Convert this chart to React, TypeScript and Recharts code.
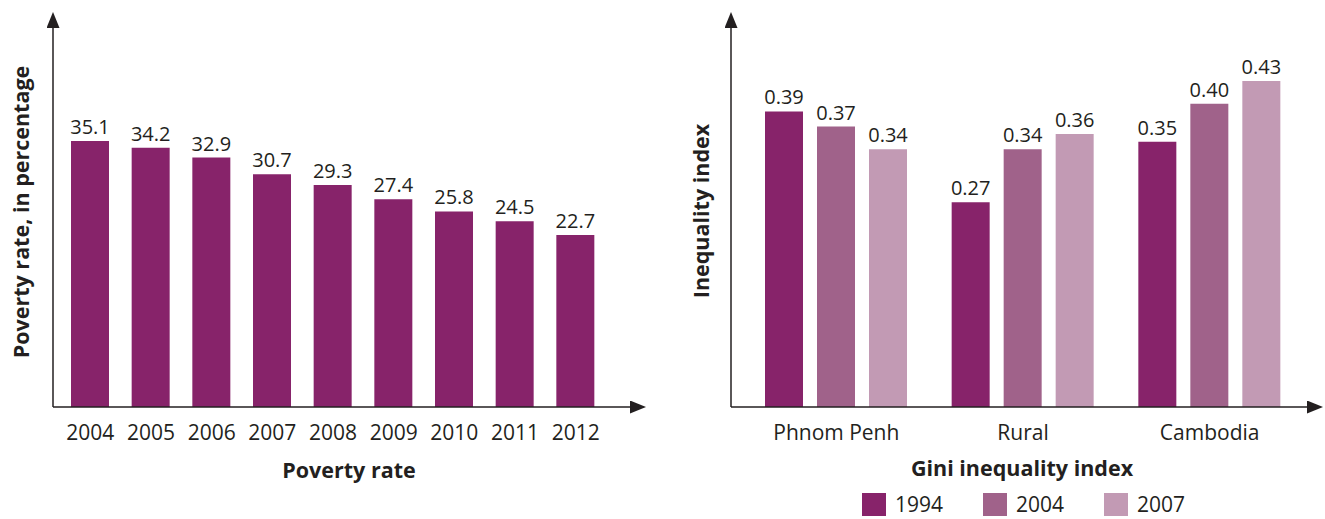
import React from 'react';
import { BarChart, Bar, XAxis, YAxis, LabelList } from 'recharts';

// Poverty rate by year (%)
const years = ['2004', '2005', '2006', '2007', '2008', '2009', '2010', '2011', '2012'];
const povertyRate = [35.1, 34.2, 32.9, 30.7, 29.3, 27.4, 25.8, 24.5, 22.7];

// Gini index by area and survey year
const regions = ['Phnom Penh', 'Rural', 'Cambodia'];
const giniYears = ['1994', '2004', '2007'];
const gini1994 = [0.39, 0.27, 0.35];
const gini2004 = [0.37, 0.34, 0.4];
const gini2007 = [0.34, 0.36, 0.43];
const giniColors = ['#87236a', '#a0628a', '#c29ab4'];

const povertyData = years.map((year, i) => ({ year, rate: povertyRate[i] }));
const giniSeries = [gini1994, gini2004, gini2007];
const giniData = regions.map((region, i) => {
  const row: Record<string, string | number> = { region };
  giniYears.forEach((y, k) => {
    row['g' + y] = giniSeries[k][i];
  });
  return row;
});

const INK = '#231f20';
const FONT = '"Open Sans", "Noto Sans", sans-serif';

const axisLineX = { stroke: INK, strokeWidth: 1.5, markerEnd: 'url(#axisArrow)' };
const axisLineY = { stroke: INK, strokeWidth: 1.5, markerStart: 'url(#axisArrow)' };

const CategoryTick = (props: any) => {
  const { x, y, payload } = props;
  return (
    <text x={x} y={y + 31} textAnchor="middle" fill={INK} fontSize={21} fontFamily={FONT}>
      {payload.value}
    </text>
  );
};

const valueLabelStyle = { fill: INK, fontSize: 20, fontFamily: FONT };

const titleStyle: React.CSSProperties = {
  position: 'absolute',
  fontFamily: FONT,
  fontWeight: 700,
  fontSize: 21.5,
  color: INK,
  whiteSpace: 'nowrap',
};

const PovertyChart = () => (
  <BarChart
    width={680}
    height={519}
    data={povertyData}
    margin={{ top: 28, right: 50, bottom: 42, left: 52 }}
  >
    <XAxis
      dataKey="year"
      height={70}
      tickLine={false}
      tickSize={0}
      axisLine={axisLineX}
      tick={<CategoryTick />}
      padding={{ left: 7, right: 24 }}
      interval={0}
    />
    <YAxis width={1} domain={[0, 50]} tick={false} tickLine={false} axisLine={axisLineY} />
    <Bar dataKey="rate" fill="#87236a" barSize={38} isAnimationActive={false}>
      <LabelList dataKey="rate" position="top" offset={7} style={valueLabelStyle} />
    </Bar>
  </BarChart>
);

const GiniChart = () => (
  <BarChart
    width={645}
    height={519}
    data={giniData}
    margin={{ top: 28, right: 18, bottom: 42, left: 50 }}
    barGap={14}
  >
    <XAxis
      dataKey="region"
      height={70}
      tickLine={false}
      tickSize={0}
      axisLine={axisLineX}
      tick={<CategoryTick />}
      padding={{ left: 12, right: 4 }}
      interval={0}
    />
    <YAxis width={1} domain={[0, 0.5]} tick={false} tickLine={false} axisLine={axisLineY} />
    {giniYears.map((y, k) => (
      <Bar
        key={y}
        dataKey={'g' + y}
        name={y}
        fill={giniColors[k]}
        barSize={38}
        isAnimationActive={false}
      >
        <LabelList
          dataKey={'g' + y}
          position="top"
          offset={7}
          style={valueLabelStyle}
          formatter={(v: any) => Number(v).toFixed(2)}
        />
      </Bar>
    ))}
  </BarChart>
);

export default function App() {
  return (
    <div
      style={{
        position: 'absolute',
        left: 0,
        top: 0,
        width: 1325,
        height: 519,
        background: '#fff',
        overflow: 'hidden',
      }}
    >
      <svg width={0} height={0} style={{ position: 'absolute' }}>
        <defs>
          <marker
            id="axisArrow"
            viewBox="0 0 16 13"
            refX={0}
            refY={6.5}
            markerWidth={16}
            markerHeight={13}
            markerUnits="userSpaceOnUse"
            orient="auto-start-reverse"
          >
            <path d="M0,0 L16,6.5 L0,13 Z" fill={INK} />
          </marker>
        </defs>
      </svg>

      <div style={{ position: 'absolute', left: 0, top: 0 }}>
        <PovertyChart />
      </div>
      <div style={{ position: 'absolute', left: 680, top: 0 }}>
        <GiniChart />
      </div>

      {/* axis titles */}
      <div
        style={{
          ...titleStyle,
          left: 20,
          top: 212,
          transform: 'translate(-50%, -50%) rotate(-90deg)',
        }}
      >
        Poverty rate, in percentage
      </div>
      <div style={{ ...titleStyle, left: 349, top: 469, transform: 'translate(-50%, -50%)' }}>
        Poverty rate
      </div>
      <div
        style={{
          ...titleStyle,
          left: 700,
          top: 211,
          transform: 'translate(-50%, -50%) rotate(-90deg)',
        }}
      >
        Inequality index
      </div>
      <div style={{ ...titleStyle, left: 1022, top: 467, transform: 'translate(-50%, -50%)' }}>
        Gini inequality index
      </div>

      {/* legend */}
      <div
        style={{
          position: 'absolute',
          left: 862,
          top: 493,
          display: 'flex',
          alignItems: 'center',
          fontFamily: FONT,
          fontSize: 21,
          color: INK,
        }}
      >
        {giniYears.map((y, k) => (
          <div key={y} style={{ display: 'flex', alignItems: 'center', marginRight: 40 }}>
            <div style={{ width: 24, height: 23, background: giniColors[k], marginRight: 9 }} />
            <span style={{ lineHeight: '23px' }}>{y}</span>
          </div>
        ))}
      </div>
    </div>
  );
}
